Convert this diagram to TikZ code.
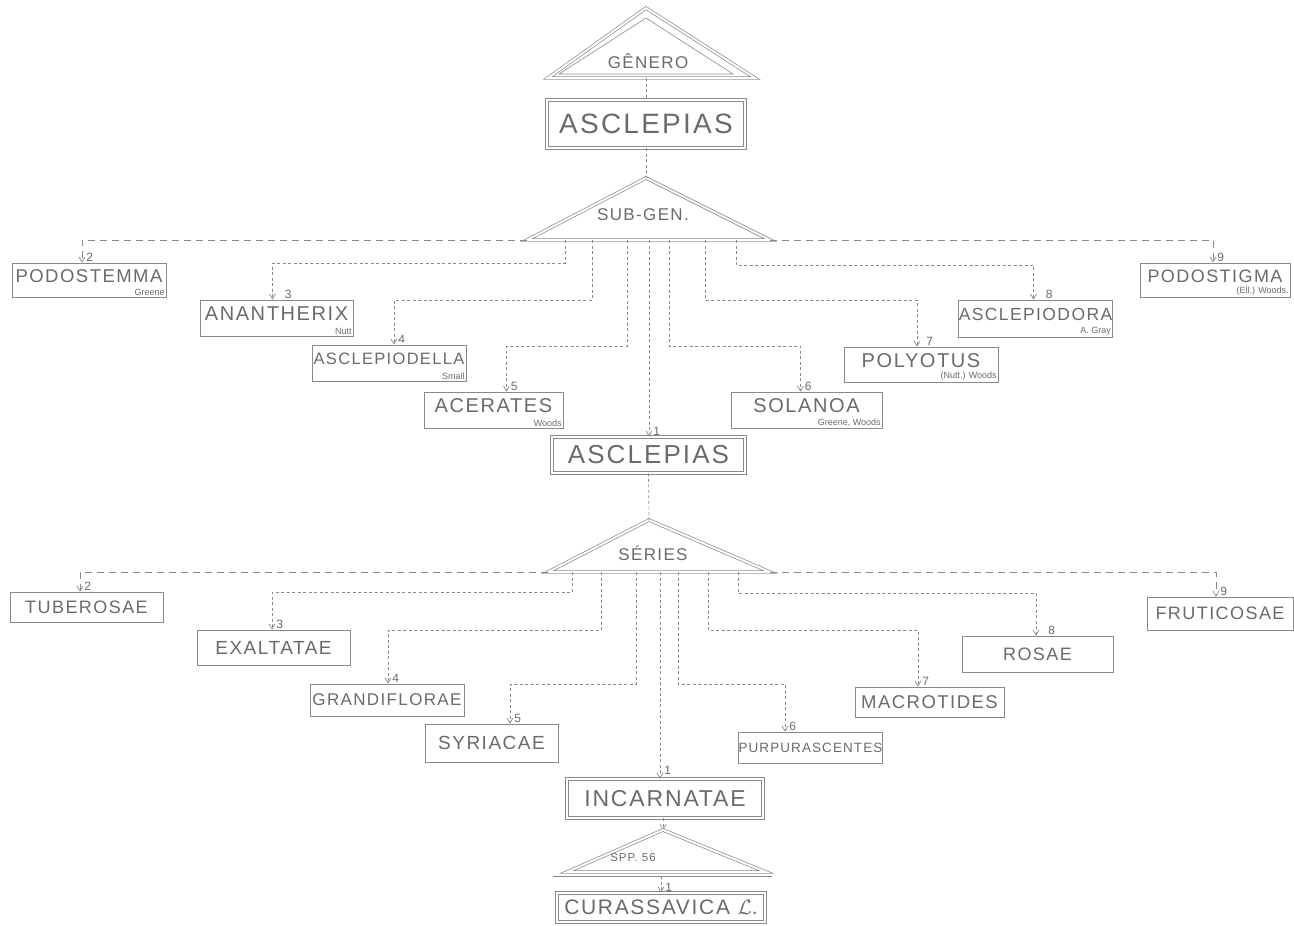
\documentclass[tikz,border=0pt]{standalone}
\usepackage{fontspec}
\setmainfont{Liberation Sans}
\newfontfamily\hand[LetterSpace=8]{Liberation Sans}
\usetikzlibrary{arrows.meta,calc}
\definecolor{ink}{HTML}{8A8A8A}
\definecolor{txt}{HTML}{6A6A6A}
\begin{document}
\begin{tikzpicture}[x=1pt,y=-1pt,
  fs/.style={font=\hand\fontsize{#1}{#1}\selectfont},
  box/.style={draw=ink, line width=0.8pt, rectangle, inner sep=0pt, text=txt},
  dbox/.style={box, double=white, double distance=2.5pt},
  hasauth/.style={text depth=8pt},
  auth/.style={font=\fontsize{9}{9}\selectfont, text=txt, anchor=south east, inner sep=1.5pt},
  num/.style={font=\fontsize{12}{12}\selectfont, text=txt, anchor=south west, inner sep=1pt, xshift=3pt},
  cn/.style={draw=ink, line width=0.7pt, dash pattern=on 3pt off 2.5pt, -{Straight Barb[length=5pt,width=6pt]}},
  ln/.style={draw=ink, line width=0.7pt, dash pattern=on 7pt off 5pt, -{Straight Barb[length=5pt,width=6pt]}},
  vd/.style={draw=ink, line width=0.7pt, dash pattern=on 3pt off 2.5pt},
  tri/.style={draw=ink, line width=0.7pt, double=white, double distance=2pt, line join=miter},
  trilab/.style={text=txt, inner sep=0pt},
]
\useasboundingbox (0,0) rectangle (1294,926);

% ---------- GENERO ----------
\coordinate (gA) at (646,8);
\coordinate (gL) at (548,78);
\coordinate (gR) at (755,78);
\coordinate (gB) at (646,78);
\draw[tri] (gA) -- (gR) -- (gL) -- cycle;
\draw[draw=ink, line width=0.6pt] (646,18) -- (733,74) -- (559,74) -- cycle;
\node[trilab, fs=17] (tGen) at (648,61) {GÊNERO};

\node[dbox, fs=28, minimum width=198, minimum height=48] (asc1) at (646,124) {ASCLEPIAS};
\draw[vd] (gB) -- (asc1.north);

% ---------- SUB-GEN ----------
\coordinate (sgA) at (646,178);
\coordinate (sgL) at (527,240);
\coordinate (sgR) at (770,240);
\draw[tri] (sgA) -- (sgR) -- (sgL) -- cycle;
\node[trilab, fs=17] (tSub) at (643,215) {SUB-GEN.};
\draw[vd] (asc1.south) -- (sgA);

\coordinate (s3) at (565,240);
\coordinate (s4) at (592,240);
\coordinate (s5) at (627,240);
\coordinate (s1) at (649,240);
\coordinate (s6) at (669,240);
\coordinate (s7) at (705,240);
\coordinate (s8) at (736,240);

\node[box, hasauth, fs=18.5, minimum width=154, minimum height=34] (n2) at (89,280) {PODOSTEMMA};
\node[auth] (a2) at (n2.south east) {Greene};
\node[box, hasauth, fs=20, minimum width=153, minimum height=36] (n3) at (276.5,318) {ANANTHERIX};
\node[auth] (a3) at (n3.south east) {Nutt};
\node[box, hasauth, fs=16.5, minimum width=154, minimum height=36] (n4) at (389,363) {ASCLEPIODELLA};
\node[auth] (a4) at (n4.south east) {Small};
\node[box, hasauth, fs=20, minimum width=139, minimum height=36] (n5) at (493.5,410) {ACERATES};
\node[auth] (a5) at (n5.south east) {Woods};
\node[dbox, fs=26, minimum width=193, minimum height=36] (n1) at (648.5,455) {ASCLEPIAS};
\node[box, hasauth, fs=20, minimum width=151, minimum height=36] (n6) at (806.5,410) {SOLANOA};
\node[auth] (a6) at (n6.south east) {Greene, Woods};
\node[box, hasauth, fs=20, minimum width=154, minimum height=35] (n7) at (921,364.5) {POLYOTUS};
\node[auth] (a7) at (n7.south east) {(Nutt.) Woods};
\node[box, hasauth, fs=17.5, minimum width=151, minimum height=37] (n8) at (1035.5,318.5) {ASCLEPIODORA};
\node[auth] (a8) at (n8.south east) {A. Gray\hspace{12pt}};
\node[box, hasauth, fs=18, minimum width=150, minimum height=34] (n9) at (1215,280) {PODOSTIGMA};
\node[auth] (a9) at (n9.south east) {(Ell.) Woods.};

\draw[ln] (sgL) -| ([xshift=-7pt]n2.north) node[num]{2};
\draw[cn] (s3) -- ++(0,23) -| ([xshift=-4pt]n3.north) node[num,xshift=8pt]{3};
\draw[cn] (s4) -- ++(0,60) -| ([xshift=5pt]n4.north) node[num]{4};
\draw[cn] (s5) -- ++(0,106) -| ([xshift=13pt]n5.north) node[num]{5};
\draw[cn] (s1) -- (s1 |- n1.north) node[num]{1};
\draw[cn] (s6) -- ++(0,106) -| ([xshift=-6pt]n6.north) node[num]{6};
\draw[cn] (s7) -- ++(0,60) -| ([xshift=-4pt]n7.north) node[num,xshift=5pt]{7};
\draw[cn] (s8) -- ++(0,25) -| ([xshift=-2pt]n8.north) node[num,xshift=8pt]{8};
\draw[ln] (sgR) -| ([xshift=-2pt]n9.north) node[num]{9};

% ---------- SERIES ----------
\coordinate (srA) at (649,520);
\coordinate (srL) at (548,572);
\coordinate (srR) at (770,572);
\draw[tri] (srA) -- (srR) -- (srL) -- cycle;
\node[trilab, fs=17] (tSer) at (653,553) {SÉRIES};
\draw[vd] (n1.south) -- (srA);

\coordinate (r3) at (572,572);
\coordinate (r4) at (601,572);
\coordinate (r5) at (636,572);
\coordinate (r1) at (660,572);
\coordinate (r6) at (678,572);
\coordinate (r7) at (708,572);
\coordinate (r8) at (738,572);

\node[box, fs=18, minimum width=153, minimum height=30] (m2) at (86.5,607) {TUBEROSAE};
\node[box, fs=19, minimum width=153, minimum height=35] (m3) at (273.5,647.5) {EXALTATAE};
\node[box, fs=17, minimum width=154, minimum height=32] (m4) at (387,700) {GRANDIFLORAE};
\node[box, fs=19, minimum width=133, minimum height=38] (m5) at (491.5,743) {SYRIACAE};
\node[dbox, fs=23, minimum width=196, minimum height=39] (m1) at (665,798.5) {INCARNATAE};
\node[box, fs=13.5, minimum width=139, minimum height=31] (m6) at (810.5,747.5) {PURPURASCENTES};
\node[box, fs=18.5, minimum width=149, minimum height=30] (m7) at (929.5,702) {MACROTIDES};
\node[box, fs=18, minimum width=151, minimum height=36] (m8) at (1037.5,654) {ROSAE};
\node[box, fs=18, minimum width=146, minimum height=33] (m9) at (1220,613.5) {FRUTICOSAE};

\draw[ln] (srL) -| ([xshift=-6.5pt]m2.north) node[num]{2};
\draw[cn] (r3) -- ++(0,20) -| ([xshift=-1.5pt]m3.north) node[num]{3};
\draw[cn] (r4) -- ++(0,58) -| ([xshift=1pt]m4.north) node[num]{4};
\draw[cn] (r5) -- ++(0,112) -| ([xshift=18.5pt]m5.north) node[num]{5};
\draw[cn] (r1) -- (r1 |- m1.north) node[num,yshift=3pt]{1};
\draw[cn] (r6) -- ++(0,112) -| ([xshift=-25.5pt]m6.north) node[num]{6};
\draw[cn] (r7) -- ++(0,58) -| ([xshift=-11.5pt]m7.north) node[num]{7};
\draw[cn] (r8) -- ++(0,21) -| ([xshift=-1.5pt]m8.north) node[num,xshift=8pt]{8};
\draw[ln] (srR) -| ([xshift=-4pt]m9.north) node[num]{9};

% ---------- SPP ----------
\coordinate (spA) at (663,830);
\coordinate (spL) at (567,872);
\coordinate (spR) at (766,872);
\coordinate (spB) at (661,876);
\draw[cn] (m1.south -| spA) -- (spA);
\draw[tri] (spA) -- (spR) -- (spL) -- cycle;
\draw[draw=ink, line width=0.7pt] (553,876) -- (772,876);
\node[trilab, fs=11.5] (tSpp) at (633,858) {SPP.\ 56};

\node[dbox, fs=21, minimum width=208, minimum height=29] (cur) at (661,907.5) {CURASSAVICA $\mathcal{L}$.};
\draw[cn] (spB) -- (spB |- cur.north) node[num]{1};
\end{tikzpicture}
\end{document}
